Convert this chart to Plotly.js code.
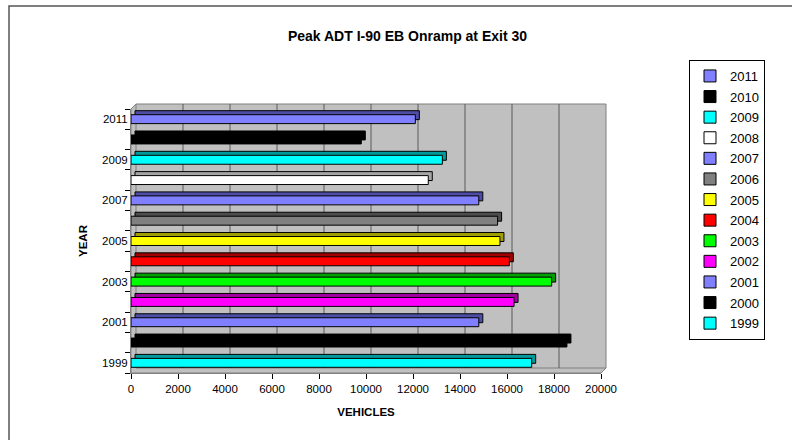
<!DOCTYPE html>
<html>
<head>
<meta charset="utf-8">
<script src="https://cdn.plot.ly/plotly-3.0.1.min.js"></script>
<style>html,body{margin:0;padding:0;background:#fff;}#chart{width:792px;height:440px;}</style>
</head>
<body>
<div id="chart"></div>
<script>
// ---- data ----
const years = [1999, 2000, 2001, 2002, 2003, 2004, 2005, 2006, 2007, 2008, 2009, 2010, 2011];
const vehicles = [17050, 18550, 14800, 16300, 17900, 16100, 15700, 15600, 14800, 12650, 13250, 9800, 12100];
const faceColors = ['#00ffff', '#000000', '#8080ff', '#ff00ff', '#00ff00', '#ff0000', '#ffff00', '#808080', '#8080ff', '#ffffff', '#00ffff', '#000000', '#8080ff'];
const sideColors = ['#009a9a', '#000000', '#4d4da6', '#a000a0', '#00a000', '#a00000', '#a0a000', '#4d4d4d', '#4d4da6', '#a6a6a6', '#009a9a', '#000000', '#4d4da6'];
const yTickYears = [1999, 2001, 2003, 2005, 2007, 2009, 2011];
const xTicks = [0, 2000, 4000, 6000, 8000, 10000, 12000, 14000, 16000, 18000, 20000];

// ---- layout geometry (pixels) ----
const L = 131, R = 191, T = 109, B = 67, W = 792, H = 440;
const PW = W - L - R, PH = H - T - B;
const XMAX = 20000;
const depth = 4;             // bar 3D depth in px
const wallShift = 5;         // back wall shift in px
const catPx = PH / years.length;
const px = p => (p - L) / PW;
const py = p => (H - B - p) / PH;

const barW = 0.44;
const traces = [];
// 3D side/top faces (drawn behind the front faces)
years.forEach((yr, i) => {
  traces.push({
    type: 'bar', orientation: 'h',
    y: [yr], x: [vehicles[i]],
    base: depth * XMAX / PW,
    width: barW, offset: -barW / 2 + depth / catPx,
    marker: {color: sideColors[i], line: {color: '#000', width: 1}},
    showlegend: false, hoverinfo: 'skip'
  });
});
// front faces (listed newest first so the legend reads 2011 ... 1999)
for (let i = years.length - 1; i >= 0; i--) {
  traces.push({
    type: 'bar', orientation: 'h',
    name: String(years[i]), legendgroup: 'g' + years[i],
    y: [years[i]], x: [vehicles[i]],
    width: barW, offset: -barW / 2,
    marker: {color: faceColors[i], line: {color: '#000', width: 1}}
  });
}

const x0 = L, x1 = L + PW, y1 = H - B, y0 = T;
const shapes = [
  // walls / floor
  {type: 'path', xref: 'paper', yref: 'paper', layer: 'below',
   path: `M ${px(x0)},${py(y0)} L ${px(x0 + wallShift)},${py(y0 - wallShift)} L ${px(x1 + wallShift)},${py(y0 - wallShift)} L ${px(x1 + wallShift)},${py(y1 - wallShift)} L ${px(x1)},${py(y1)} L ${px(x0)},${py(y1)} Z`,
   fillcolor: '#c0c0c0', line: {color: '#808080', width: 1}},
  {type: 'line', xref: 'paper', yref: 'paper', layer: 'below',
   x0: px(x0 + wallShift), y0: py(y1 - wallShift), x1: px(x1 + wallShift), y1: py(y1 - wallShift),
   line: {color: '#808080', width: 1}},
  // outer chart border
  {type: 'rect', xref: 'paper', yref: 'paper',
   x0: px(9), y0: py(460), x1: px(810), y1: py(6),
   line: {color: '#555555', width: 1.5}, fillcolor: 'rgba(0,0,0,0)'}
];
// back-wall gridlines, shifted by the wall depth
xTicks.forEach(v => {
  shapes.push({type: 'line', layer: 'below', xref: 'x', xsizemode: 'pixel', xanchor: v,
               x0: wallShift, x1: wallShift, yref: 'paper', y0: py(y1 - wallShift), y1: py(y0 - wallShift),
               line: {color: v === 0 ? '#808080' : '#5a5a5a', width: 1}});
});

const font = 'Liberation Sans, Arial, sans-serif';
const layout = {
  width: W, height: H,
  margin: {l: L, r: R, t: T, b: B, pad: 0},
  paper_bgcolor: '#ffffff', plot_bgcolor: 'rgba(0,0,0,0)',
  font: {family: font, size: 11.5, color: '#000'},
  title: {text: 'Peak ADT I-90 EB Onramp at Exit 30', font: {family: font, size: 14, weight: 'bold', color: '#000'},
          xref: 'container', x: 407.5 / W, xanchor: 'center', yref: 'container', y: 1 - 36 / H, yanchor: 'middle'},
  barmode: 'overlay',
  showlegend: true,
  legend: {x: px(765), xanchor: 'right', y: py(60), yanchor: 'top',
           bordercolor: '#000', borderwidth: 1, bgcolor: '#fff',
           font: {family: font, size: 13, color: '#000'},
           traceorder: 'grouped', tracegroupgap: 0.7, maxheight: 400, itemwidth: 30},
  xaxis: {range: [0, XMAX], tickvals: xTicks, ticktext: xTicks.map(String),
          showgrid: false, zeroline: false, showline: true, linecolor: '#808080', linewidth: 1,
          ticks: 'outside', ticklen: 5, tickcolor: '#000',
          title: {text: 'VEHICLES', font: {family: font, size: 11.5, weight: 'bold'}, standoff: 14},
          automargin: false, fixedrange: true},
  yaxis: {range: [years[0] - 0.5, years[years.length - 1] + 0.5],
          tickvals: yTickYears, ticktext: yTickYears.map(String), ticks: '',
          minor: {ticks: 'outside', tick0: years[0] - 0.5, dtick: 1, ticklen: 5, tickcolor: '#000', showgrid: false},
          showgrid: false, zeroline: false, showline: true, linecolor: '#808080', linewidth: 1,
          title: {text: 'YEAR', font: {family: font, size: 11.5, weight: 'bold'}, standoff: 12},
          automargin: false, fixedrange: true},
  shapes: shapes
};

Plotly.newPlot('chart', traces, layout, {displayModeBar: false, staticPlot: true});
</script>
</body>
</html>
